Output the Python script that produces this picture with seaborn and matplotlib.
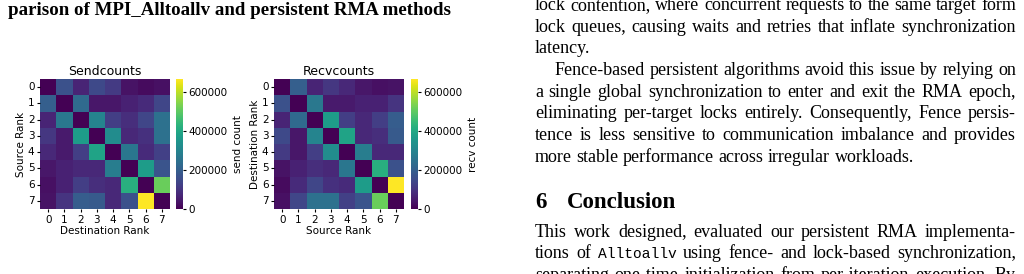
import numpy as np
import pandas as pd
import seaborn as sns
import matplotlib.pyplot as plt

# rank-to-rank message counts
ranks = [0, 1, 2, 3, 4, 5, 6, 7]
sendcounts = [
    [0, 166000, 66000, 146000, 113000, 33000, 20000, 27000],
    [200000, 0, 226000, 40000, 40000, 60000, 80000, 140000],
    [66000, 266000, 0, 300000, 120000, 86000, 140000, 246000],
    [106000, 46000, 366000, 0, 320000, 73000, 93000, 246000],
    [73000, 46000, 120000, 386000, 0, 260000, 80000, 126000],
    [40000, 60000, 73000, 73000, 280000, 0, 366000, 173000],
    [27000, 60000, 120000, 86000, 73000, 420000, 0, 512000],
    [33000, 100000, 193000, 186000, 73000, 166000, 665000, 0],
]
recvcounts = [
    [0, 200000, 66000, 106000, 73000, 40000, 27000, 33000],
    [166000, 0, 266000, 46000, 46000, 60000, 60000, 100000],
    [66000, 226000, 0, 366000, 120000, 73000, 120000, 193000],
    [146000, 40000, 300000, 0, 386000, 73000, 86000, 186000],
    [113000, 40000, 120000, 320000, 0, 280000, 73000, 73000],
    [33000, 60000, 86000, 73000, 260000, 0, 420000, 166000],
    [20000, 80000, 140000, 93000, 80000, 366000, 0, 665000],
    [27000, 140000, 246000, 246000, 126000, 173000, 512000, 0],
]
cbar_ticks = [0, 200000, 400000, 600000]

send_df = pd.DataFrame(sendcounts, index=ranks, columns=ranks)
recv_df = pd.DataFrame(recvcounts, index=ranks, columns=ranks)

W, H = 1024, 274
fig = plt.figure(figsize=(W / 100, H / 100), dpi=100)


def box(left, top, w, h):
    return [left / W, 1 - (top + h) / H, w / W, h / H]


def draw_heatmap(df, ax, cax, title, xlabel, ylabel, clabel):
    sns.heatmap(df, ax=ax, cbar_ax=cax, cmap="viridis", vmin=0,
                cbar_kws={"label": clabel, "ticks": cbar_ticks})
    ax.set_title(title, fontsize=9, pad=3)
    ax.set_xlabel(xlabel, fontsize=7.5, labelpad=1)
    ax.set_ylabel(ylabel, fontsize=7.5, labelpad=1)
    ax.tick_params(labelsize=7.5, length=2.5, pad=1.5)
    ax.set_yticklabels(ranks, rotation=0)
    ax.set_xticklabels(ranks, rotation=0)
    cax.tick_params(labelsize=7.5, length=2.5, pad=1.5)
    cax.set_yticklabels([str(t) for t in cbar_ticks])
    cax.yaxis.label.set_size(7.5)


ax1 = fig.add_axes(box(40, 79, 130, 130))
cax1 = fig.add_axes(box(176, 79, 7, 130))
draw_heatmap(send_df, ax1, cax1, "Sendcounts", "Destination Rank", "Source Rank", "send count")

ax2 = fig.add_axes(box(274, 79, 130, 130))
cax2 = fig.add_axes(box(411, 79, 7, 130))
draw_heatmap(recv_df, ax2, cax2, "Recvcounts", "Source Rank", "Destination Rank", "recv count")

# surrounding page text, set word by word so lines can be justified
fig.canvas.draw()
renderer = fig.canvas.get_renderer()
serif = dict(family="Liberation Serif", fontsize=13.0, color="black", va="baseline")
mono = dict(family="Liberation Mono", fontsize=10.5, color="black", va="baseline")


def width(s, props):
    t = fig.text(0, 0, s, **props)
    w = t.get_window_extent(renderer).width
    t.remove()
    return w


def set_line(x0, y, words, props=serif, right=None):
    # words: list of str or (str, props)
    items = [(w, props) if isinstance(w, str) else w for w in words]
    widths = [width(s, p) for s, p in items]
    space = width("a a", props) - width("aa", props)
    if right is not None and len(items) > 1:
        space = (right - x0 - sum(widths)) / (len(items) - 1)
    x = x0
    for (s, p), w in zip(items, widths):
        fig.text(x / W, 1 - y / H, s, **p)
        x += w + space


caption = dict(serif, weight="bold", fontsize=13.6)
fig.text(8 / W, 1 - 15 / H, "parison of MPI_Alltoallv and persistent RMA methods", **caption)

R = 1016
right_lines = [
    (535, 10, "lock contention, where concurrent requests to the same target form", R),
    (535, 31.7, "lock queues, causing waits and retries that inflate synchronization", R),
    (535, 53.3, "latency.", None),
    (555, 75, "Fence-based persistent algorithms avoid this issue by relying on", R),
    (535, 96.7, "a single global synchronization to enter and exit the RMA epoch,", R),
    (535, 118.3, "eliminating per-target locks entirely. Consequently, Fence persis-", R),
    (535, 140, "tence is less sensitive to communication imbalance and provides", R),
    (535, 161.7, "more stable performance across irregular workloads.", None),
    (535, 236.7, "This work designed, evaluated our persistent RMA implementa-", R),
    (535, 280, "separating one-time initialization from per-iteration execution. By", R),
]
for x, y, s, r in right_lines:
    set_line(x, y, s.split(), right=r)

set_line(535, 258.3, ["tions", "of", ("Alltoallv", mono)] +
         "using fence- and lock-based synchronization,".split(), right=R)

head = dict(serif, weight="bold", fontsize=16.5)
fig.text(535 / W, 1 - 208.3 / H, "6", **head)
fig.text(567 / W, 1 - 208.3 / H, "Conclusion", **head)

fig.savefig("out.png", dpi=100)
